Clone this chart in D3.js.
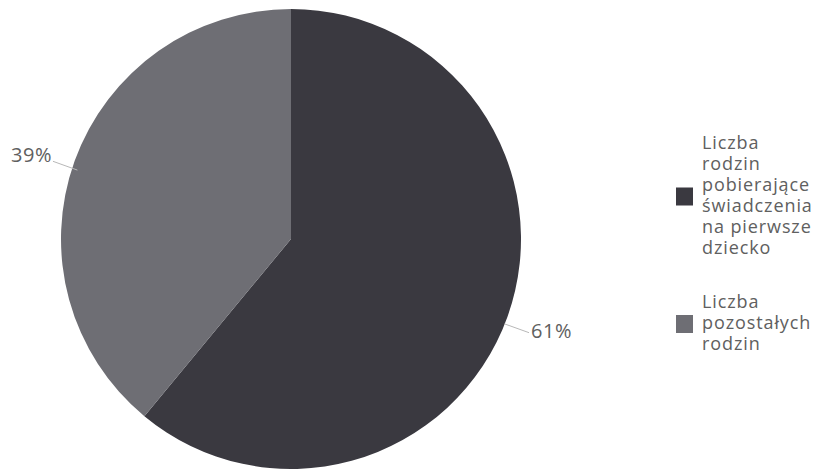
<!DOCTYPE html>
<html><head><meta charset="utf-8">
<script src="https://cdn.jsdelivr.net/npm/d3@7"></script>
<style>body{margin:0;background:#fff}svg{display:block}</style>
</head><body>
<svg id="c" width="820" height="476"></svg>
<script>
const categories = ["Liczba rodzin pobierające świadczenia na pierwsze dziecko", "Liczba pozostałych rodzin"];
const legendLines = [["Liczba","rodzin","pobierające","świadczenia","na pierwsze","dziecko"],["Liczba","pozostałych","rodzin"]];
const values = [61, 39];
const labels = ["61%", "39%"];
const colors = ["#3a3940", "#6e6e74"];

const svg = d3.select("#c");
const cx = 291, cy = 239, r = 230;
const g = svg.append("g").attr("transform", `translate(${cx},${cy})`);
const pie = d3.pie().sort(null).value(d => d)(values);
const arc = d3.arc().innerRadius(0).outerRadius(r);
g.selectAll("path.s").data(pie).join("path").attr("class","s")
  .attr("d", arc).attr("fill", (d,i) => colors[i]);

pie.forEach((d,i) => {
  const a = (d.startAngle + d.endAngle)/2;
  const sx = Math.sin(a), sy = -Math.cos(a);
  const oy = 8;
  const p1 = [sx*(r-3), sy*(r-3)+oy], p2 = [sx*(r+23), sy*(r+23)+oy];
  g.append("line").attr("x1",p1[0]).attr("y1",p1[1]).attr("x2",p2[0]).attr("y2",p2[1])
    .attr("stroke","#b8b8b8").attr("stroke-width",1);
  g.append("text").attr("x", p2[0] + (sx>0?2:-1)).attr("y", p2[1] + (sx>0?0:-5))
    .attr("text-anchor", sx>0?"start":"end").attr("dominant-baseline","middle")
    .attr("font-family","Open Sans, sans-serif").attr("font-size",20).attr("letter-spacing",0.5).attr("fill","#606060")
    .text(labels[i]);
});

const lg = svg.append("g");
const legTop = [144, 303];
legendLines.forEach((lines,i) => {
  const lh = 21;
  const mid = legTop[i] + (lines.length-1)*lh/2;
  lg.append("rect").attr("x",676).attr("y",mid-9).attr("width",17).attr("height",18).attr("fill",colors[i]);
  const t = lg.append("text").attr("font-family","Open Sans, sans-serif").attr("font-size",18).attr("letter-spacing",0.9).attr("fill","#606060");
  lines.forEach((l,j) => t.append("tspan").attr("x",702).attr("y",legTop[i]+j*lh).attr("dominant-baseline","middle").text(l));
});
</script>
</body></html>
